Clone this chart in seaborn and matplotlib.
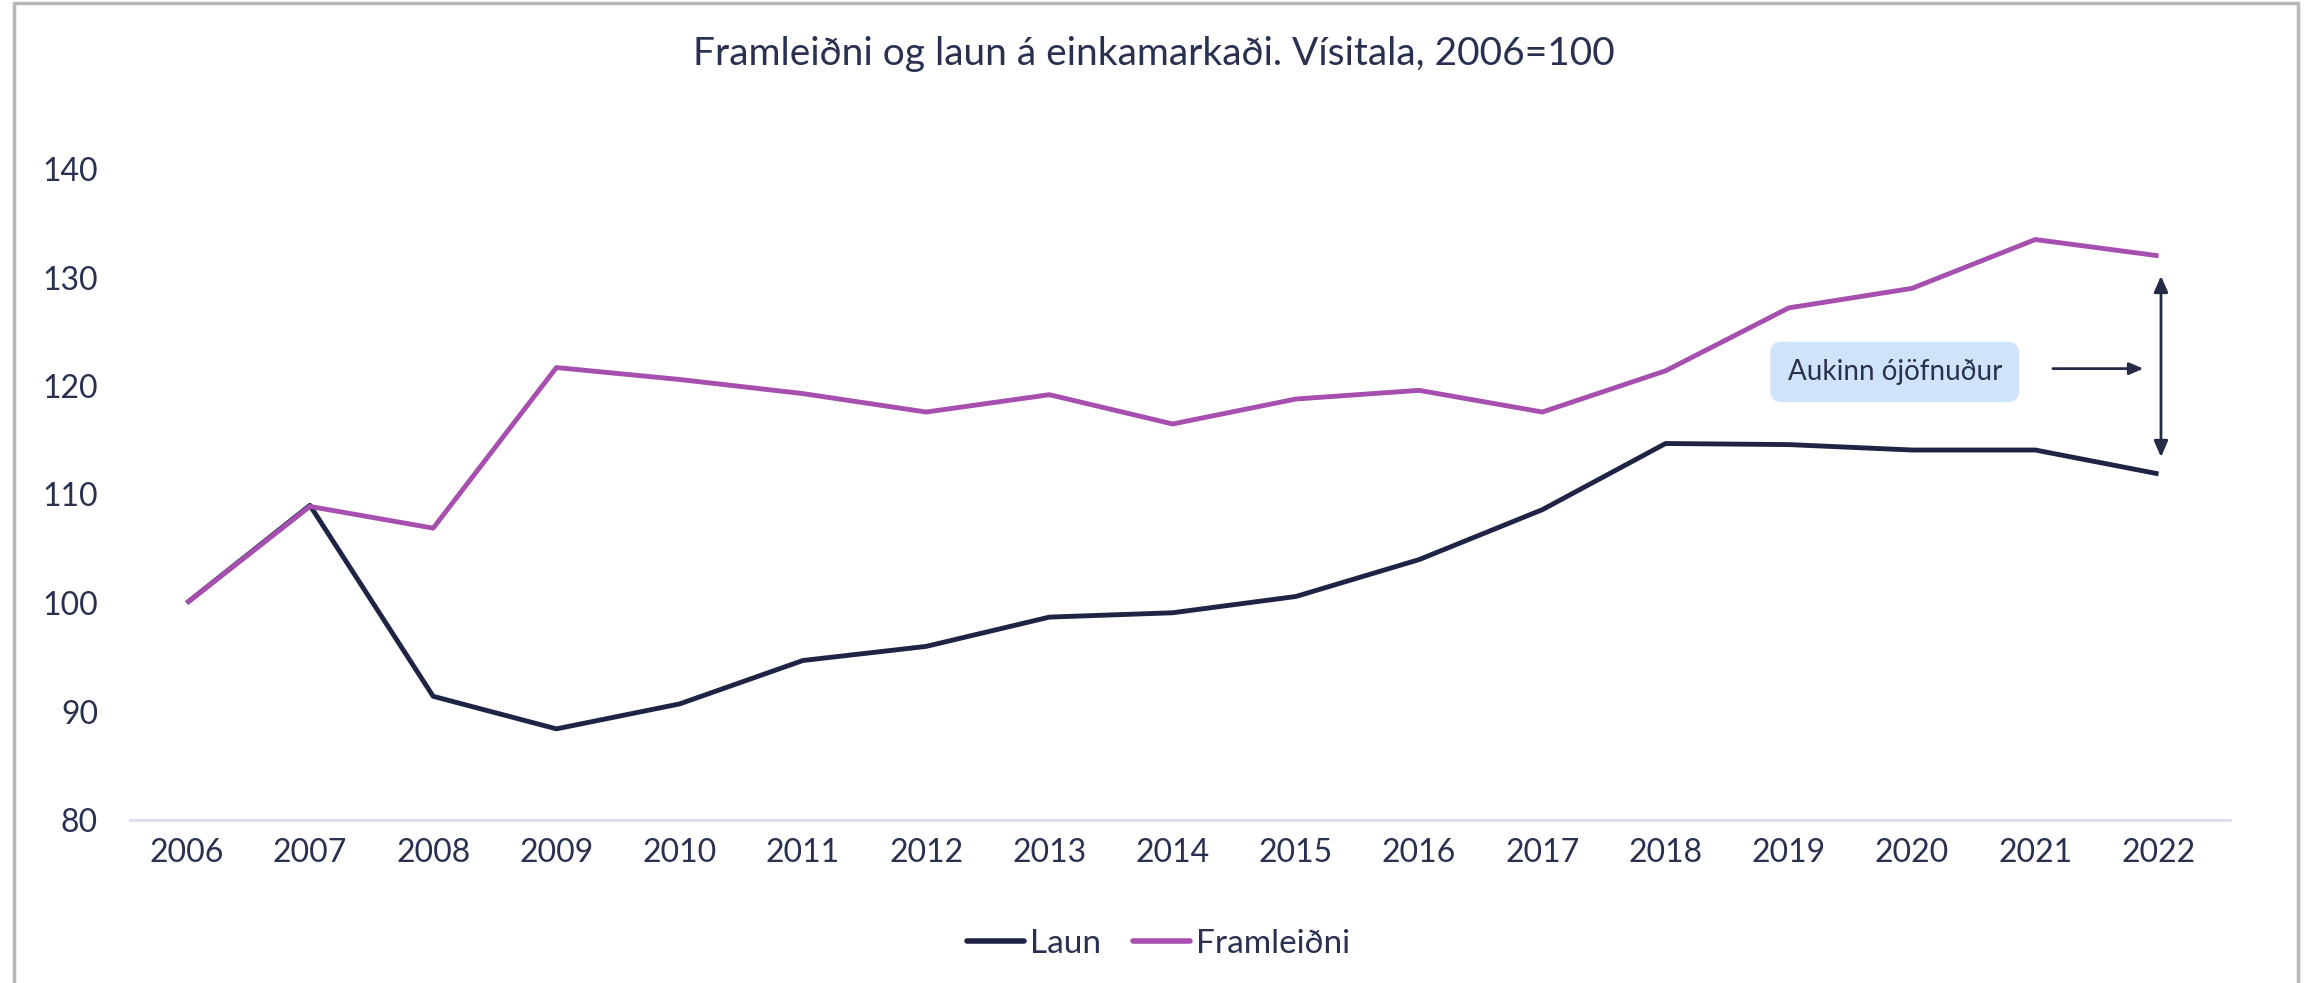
import numpy as np
import pandas as pd
import seaborn as sns
import matplotlib.pyplot as plt
from matplotlib.lines import Line2D

# ---- gögn ----
years = list(range(2006, 2023))
laun = [100.0, 109.0, 91.4, 88.4, 90.7, 94.7, 96.0, 98.7, 99.1, 100.6,
        104.0, 108.6, 114.7, 114.6, 114.1, 114.1, 111.9]
framleidni = [100.0, 108.9, 106.9, 121.7, 120.6, 119.3, 117.6, 119.2, 116.5, 118.8,
              119.6, 117.6, 121.4, 127.2, 129.0, 133.5, 132.0]
series_names = ["Laun", "Framleiðni"]
series_colors = ["#1f2444", "#a64fae"]
y_ticks = [80, 90, 100, 110, 120, 130, 140]
title = "Framleiðni og laun á einkamarkaði. Vísitala, 2006=100"
note = "Aukinn ójöfnuður"

sns.set_theme(style="white")
plt.rcParams['font.family'] = ['Lato', 'DejaVu Sans']
text_color = "#2a3050"

df = pd.DataFrame({"Ár": years * 2,
                   "Vísitala": laun + framleidni,
                   "Röð": [series_names[0]] * len(years) + [series_names[1]] * len(years)})

fig = plt.figure(figsize=(23.08, 9.83), dpi=100)
ax = fig.add_axes([130 / 2308, 1 - 820 / 983, 2100 / 2308, (820 - 169) / 983])

sns.lineplot(data=df, x="Ár", y="Vísitala", hue="Röð", hue_order=series_names,
             palette=series_colors, linewidth=3.5, legend=False, ax=ax,
             solid_capstyle="butt")

ax.set_xlim(2005.54, 2022.58)
ax.set_ylim(80, 140)
ax.set_xticks(years)
ax.set_xticklabels([str(y) for y in years], fontsize=23, color=text_color)
ax.set_yticks(y_ticks)
ax.set_yticklabels([str(v) for v in y_ticks], fontsize=23, color=text_color)
ax.tick_params(axis="x", length=0, pad=13)
ax.tick_params(axis="y", length=0, pad=23)
ax.set_xlabel("")
ax.set_ylabel("")
for side in ["top", "right", "left"]:
    ax.spines[side].set_visible(False)
ax.spines["bottom"].set_color("#dcdcec")
ax.spines["bottom"].set_linewidth(2)
ax.patch.set_alpha(0)

# skýring: kassi og örvar
ax.text(2019.86, 121.3, note, fontsize=20, color=text_color, ha="center", va="center",
        bbox=dict(boxstyle="round,pad=0.62,rounding_size=0.4", fc="#cfe4f8", ec="none"))
ax.annotate("", xy=(2021.9, 121.6), xytext=(2021.12, 121.6),
            arrowprops=dict(arrowstyle="-|>,head_length=0.7,head_width=0.3",
                            color="#252a45", lw=2))
ax.annotate("", xy=(2022.02, 130.4), xytext=(2022.02, 113.2),
            arrowprops=dict(arrowstyle="<|-|>,head_length=0.8,head_width=0.35",
                            color="#252a45", lw=2))

fig.suptitle(title, x=0.5, y=1 - 54 / 983, va="center", fontsize=28, color=text_color)

handles = [Line2D([0], [0], color=c, lw=4, solid_capstyle="round") for c in series_colors]
fig.legend(handles, series_names, loc="center", bbox_to_anchor=(0.502, 1 - 944 / 983),
           ncol=2, frameon=False, fontsize=24, handlelength=1.7, handletextpad=0.2,
           columnspacing=0.95, labelcolor=text_color)

# rammi utan um myndina
for xs, ys in [([14, 14], [0, 980]), ([14, 2298], [980, 980]), ([2298, 2298], [980, 0])]:
    fig.add_artist(Line2D([x / 2308 for x in xs], [y / 983 for y in ys],
                          color="#b8b8b8", lw=2.5))

fig.savefig("out.png", dpi=100)
